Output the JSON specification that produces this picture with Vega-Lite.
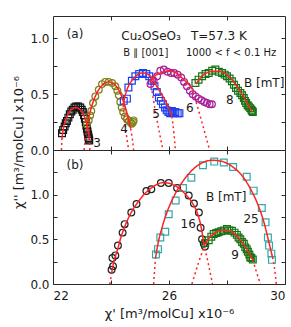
{
"$schema":"https://vega.github.io/schema/vega-lite/v6.json",
"padding":{"left":12,"top":15,"right":8,"bottom":4},
"spacing":0,
"bounds":"flush",
"config":{
 "view":{"stroke":null},
 "font":"DejaVu Sans",
 "axis":{"grid":false,"domainColor":"#2a2a2a","domainWidth":1,"tickColor":"#2a2a2a","tickWidth":1,"tickSize":-4,"labelFont":"DejaVu Sans","labelFontSize":12,"labelColor":"#1a1a1a","titleFont":"DejaVu Sans","titleFontSize":13,"titleFontWeight":"normal","titleColor":"#1a1a1a","labelPadding":8}
},
"datasets":{
"ptsA":[
{"B":"3","x":22.31,"y":0.15},{"B":"3","x":22.35,"y":0.18},{"B":"3","x":22.40,"y":0.21},{"B":"3","x":22.44,"y":0.24},{"B":"3","x":22.48,"y":0.26},{"B":"3","x":22.53,"y":0.29},{"B":"3","x":22.58,"y":0.32},{"B":"3","x":22.63,"y":0.345},{"B":"3","x":22.68,"y":0.36},{"B":"3","x":22.74,"y":0.38},{"B":"3","x":22.80,"y":0.39},{"B":"3","x":22.87,"y":0.39},{"B":"3","x":22.94,"y":0.38},{"B":"3","x":22.99,"y":0.36},{"B":"3","x":23.03,"y":0.34},{"B":"3","x":23.07,"y":0.31},{"B":"3","x":23.10,"y":0.28},{"B":"3","x":23.13,"y":0.25},{"B":"3","x":23.15,"y":0.22},{"B":"3","x":23.17,"y":0.19},{"B":"3","x":23.19,"y":0.165},{"B":"3","x":23.21,"y":0.14},{"B":"3","x":23.22,"y":0.12},{"B":"3","x":23.23,"y":0.105},{"B":"3","x":23.24,"y":0.095},{"B":"3","x":23.25,"y":0.085},
{"B":"4","x":23.17,"y":0.23},{"B":"4","x":23.23,"y":0.265},{"B":"4","x":23.28,"y":0.31},{"B":"4","x":23.32,"y":0.35},{"B":"4","x":23.38,"y":0.42},{"B":"4","x":23.46,"y":0.48},{"B":"4","x":23.58,"y":0.54},{"B":"4","x":23.69,"y":0.59},{"B":"4","x":23.80,"y":0.61},{"B":"4","x":23.92,"y":0.61},{"B":"4","x":24.04,"y":0.60},{"B":"4","x":24.15,"y":0.57},{"B":"4","x":24.22,"y":0.53},{"B":"4","x":24.27,"y":0.49},{"B":"4","x":24.32,"y":0.43},{"B":"4","x":24.37,"y":0.38},{"B":"4","x":24.42,"y":0.34},{"B":"4","x":24.48,"y":0.30},{"B":"4","x":24.55,"y":0.275},{"B":"4","x":24.62,"y":0.26},{"B":"4","x":24.68,"y":0.245},{"B":"4","x":24.72,"y":0.235},{"B":"4","x":24.76,"y":0.25},{"B":"4","x":24.78,"y":0.265},
{"B":"5","x":24.44,"y":0.44},{"B":"5","x":24.55,"y":0.46},{"B":"5","x":24.60,"y":0.56},{"B":"5","x":24.72,"y":0.62},{"B":"5","x":24.84,"y":0.66},{"B":"5","x":24.97,"y":0.68},{"B":"5","x":25.10,"y":0.69},{"B":"5","x":25.22,"y":0.68},{"B":"5","x":25.32,"y":0.66},{"B":"5","x":25.41,"y":0.62},{"B":"5","x":25.50,"y":0.57},{"B":"5","x":25.58,"y":0.52},{"B":"5","x":25.65,"y":0.47},{"B":"5","x":25.72,"y":0.44},{"B":"5","x":25.79,"y":0.41},{"B":"5","x":25.86,"y":0.38},{"B":"5","x":25.92,"y":0.355},{"B":"5","x":25.98,"y":0.34},{"B":"5","x":26.04,"y":0.33},{"B":"5","x":26.10,"y":0.35},{"B":"5","x":26.16,"y":0.33},{"B":"5","x":26.22,"y":0.34},{"B":"5","x":26.30,"y":0.33},{"B":"5","x":26.36,"y":0.33},
{"B":"6","x":25.36,"y":0.59},{"B":"6","x":25.47,"y":0.62},{"B":"6","x":25.59,"y":0.66},{"B":"6","x":25.70,"y":0.71},{"B":"6","x":25.82,"y":0.72},{"B":"6","x":25.95,"y":0.70},{"B":"6","x":26.07,"y":0.69},{"B":"6","x":26.18,"y":0.69},{"B":"6","x":26.30,"y":0.675},{"B":"6","x":26.42,"y":0.65},{"B":"6","x":26.52,"y":0.61},{"B":"6","x":26.62,"y":0.57},{"B":"6","x":26.72,"y":0.53},{"B":"6","x":26.82,"y":0.50},{"B":"6","x":26.92,"y":0.48},{"B":"6","x":27.02,"y":0.46},{"B":"6","x":27.12,"y":0.445},{"B":"6","x":27.22,"y":0.43},{"B":"6","x":27.31,"y":0.42},{"B":"6","x":27.40,"y":0.41},{"B":"6","x":27.48,"y":0.41},
{"B":"8","x":26.91,"y":0.60},{"B":"8","x":27.02,"y":0.63},{"B":"8","x":27.14,"y":0.66},{"B":"8","x":27.26,"y":0.68},{"B":"8","x":27.37,"y":0.69},{"B":"8","x":27.49,"y":0.71},{"B":"8","x":27.60,"y":0.72},{"B":"8","x":27.72,"y":0.70},{"B":"8","x":27.83,"y":0.69},{"B":"8","x":27.92,"y":0.675},{"B":"8","x":28.00,"y":0.66},{"B":"8","x":28.09,"y":0.64},{"B":"8","x":28.17,"y":0.615},{"B":"8","x":28.24,"y":0.585},{"B":"8","x":28.31,"y":0.555},{"B":"8","x":28.38,"y":0.53},{"B":"8","x":28.46,"y":0.51},{"B":"8","x":28.52,"y":0.49},{"B":"8","x":28.58,"y":0.465},{"B":"8","x":28.62,"y":0.44},{"B":"8","x":28.66,"y":0.42},{"B":"8","x":28.71,"y":0.40},{"B":"8","x":28.75,"y":0.39},{"B":"8","x":28.80,"y":0.375},{"B":"8","x":28.84,"y":0.36},{"B":"8","x":28.87,"y":0.35},{"B":"8","x":28.89,"y":0.34}
],
"fitA":[
{"id":"3a","kind":"ext","x":22.29,"y":0},{"id":"3a","kind":"ext","x":22.31,"y":0.107},
{"id":"3","kind":"fit","x":22.31,"y":0.107},{"id":"3","kind":"fit","x":22.34,"y":0.167},{"id":"3","kind":"fit","x":22.38,"y":0.22},{"id":"3","kind":"fit","x":22.45,"y":0.281},{"id":"3","kind":"fit","x":22.53,"y":0.327},{"id":"3","kind":"fit","x":22.63,"y":0.362},{"id":"3","kind":"fit","x":22.78,"y":0.38},{"id":"3","kind":"fit","x":22.93,"y":0.362},{"id":"3","kind":"fit","x":23.03,"y":0.327},{"id":"3","kind":"fit","x":23.11,"y":0.281},{"id":"3","kind":"fit","x":23.18,"y":0.22},{"id":"3","kind":"fit","x":23.22,"y":0.167},{"id":"3","kind":"fit","x":23.25,"y":0.107},
{"id":"3b","kind":"ext","x":23.25,"y":0.107},{"id":"3b","kind":"ext","x":23.27,"y":0},
{"id":"4a","kind":"ext","x":23.07,"y":0},{"id":"4a","kind":"ext","x":23.11,"y":0.09},{"id":"4a","kind":"ext","x":23.15,"y":0.172},
{"id":"4","kind":"fit","x":23.15,"y":0.172},{"id":"4","kind":"fit","x":23.25,"y":0.3075},{"id":"4","kind":"fit","x":23.40,"y":0.442},{"id":"4","kind":"fit","x":23.55,"y":0.5286},{"id":"4","kind":"fit","x":23.70,"y":0.5816},{"id":"4","kind":"fit","x":23.925,"y":0.61},{"id":"4","kind":"fit","x":24.15,"y":0.58},{"id":"4","kind":"fit","x":24.30,"y":0.52},{"id":"4","kind":"fit","x":24.45,"y":0.42},{"id":"4","kind":"fit","x":24.58,"y":0.30},{"id":"4","kind":"fit","x":24.68,"y":0.19},
{"id":"4b","kind":"ext","x":24.68,"y":0.19},{"id":"4b","kind":"ext","x":24.74,"y":0.09},{"id":"4b","kind":"ext","x":24.78,"y":0},
{"id":"5a","kind":"ext","x":24.42,"y":0.40},{"id":"5a","kind":"ext","x":24.50,"y":0.20},{"id":"5a","kind":"ext","x":24.61,"y":0},
{"id":"5","kind":"fit","x":24.42,"y":0.40},{"id":"5","kind":"fit","x":24.48,"y":0.48},{"id":"5","kind":"fit","x":24.55,"y":0.54},{"id":"5","kind":"fit","x":24.66,"y":0.60},{"id":"5","kind":"fit","x":24.78,"y":0.64},{"id":"5","kind":"fit","x":24.92,"y":0.675},{"id":"5","kind":"fit","x":25.10,"y":0.69},{"id":"5","kind":"fit","x":25.25,"y":0.68},{"id":"5","kind":"fit","x":25.41,"y":0.646},{"id":"5","kind":"fit","x":25.61,"y":0.556},{"id":"5","kind":"fit","x":25.82,"y":0.467},{"id":"5","kind":"fit","x":25.99,"y":0.378},{"id":"5","kind":"fit","x":26.10,"y":0.30},
{"id":"5b","kind":"ext","x":26.10,"y":0.30},{"id":"5b","kind":"ext","x":26.17,"y":0.15},{"id":"5b","kind":"ext","x":26.22,"y":0},
{"id":"6a","kind":"ext","x":25.36,"y":0.616},{"id":"6a","kind":"ext","x":25.55,"y":0.32},{"id":"6a","kind":"ext","x":25.79,"y":0},
{"id":"6","kind":"fit","x":25.36,"y":0.616},{"id":"6","kind":"fit","x":25.50,"y":0.66},{"id":"6","kind":"fit","x":25.70,"y":0.69},{"id":"6","kind":"fit","x":25.90,"y":0.705},{"id":"6","kind":"fit","x":26.05,"y":0.705},{"id":"6","kind":"fit","x":26.25,"y":0.69},{"id":"6","kind":"fit","x":26.51,"y":0.63},{"id":"6","kind":"fit","x":26.65,"y":0.595},{"id":"6","kind":"fit","x":26.79,"y":0.556},
{"id":"6b","kind":"ext","x":26.79,"y":0.556},{"id":"6b","kind":"ext","x":27.10,"y":0.28},{"id":"6b","kind":"ext","x":27.40,"y":0},
{"id":"8","kind":"fit","x":26.93,"y":0.59},{"id":"8","kind":"fit","x":27.10,"y":0.65},{"id":"8","kind":"fit","x":27.30,"y":0.69},{"id":"8","kind":"fit","x":27.50,"y":0.705},{"id":"8","kind":"fit","x":27.71,"y":0.705},{"id":"8","kind":"fit","x":27.90,"y":0.69},{"id":"8","kind":"fit","x":28.10,"y":0.65},{"id":"8","kind":"fit","x":28.30,"y":0.585},{"id":"8","kind":"fit","x":28.52,"y":0.50},{"id":"8","kind":"fit","x":28.70,"y":0.42},{"id":"8","kind":"fit","x":28.87,"y":0.34}
],
"txtA":[
{"t":"(a)","x":22.76,"y":1.04},{"t":"Cu₂OSeO₃","x":25.38,"y":1.02},{"t":"T=57.3 K","x":27.72,"y":1.02},{"t":"B [mT]","x":29.28,"y":0.60},
{"t":"3","x":23.52,"y":0.065},{"t":"4","x":24.45,"y":0.19},{"t":"5","x":25.55,"y":0.32},{"t":"6","x":26.72,"y":0.375},{"t":"8","x":28.10,"y":0.45}
],
"smallA":[
{"t":"B ∥ [001]","x":25.2,"y":0.87},{"t":"1000 < f < 0.1 Hz","x":28.14,"y":0.87}
],
"ptsB":[
{"B":"16","x":24.02,"y":0.16},{"B":"16","x":24.07,"y":0.20},{"B":"16","x":24.05,"y":0.29},{"B":"16","x":24.15,"y":0.32},{"B":"16","x":24.24,"y":0.43},{"B":"16","x":24.40,"y":0.575},{"B":"16","x":24.47,"y":0.67},{"B":"16","x":24.70,"y":0.80},{"B":"16","x":24.88,"y":0.895},{"B":"16","x":25.22,"y":1.04},{"B":"16","x":25.39,"y":1.06},{"B":"16","x":25.72,"y":1.13},{"B":"16","x":25.99,"y":1.13},{"B":"16","x":26.28,"y":1.075},{"B":"16","x":26.68,"y":0.99},{"B":"16","x":26.86,"y":0.90},{"B":"16","x":27.03,"y":0.80},{"B":"16","x":27.09,"y":0.63},{"B":"16","x":27.14,"y":0.50},{"B":"16","x":27.20,"y":0.45},{"B":"16","x":27.24,"y":0.42},
{"B":"25","x":25.55,"y":0.33},{"B":"25","x":25.62,"y":0.39},{"B":"25","x":25.70,"y":0.52},{"B":"25","x":25.87,"y":0.585},{"B":"25","x":25.99,"y":0.78},{"B":"25","x":26.23,"y":0.935},{"B":"25","x":26.48,"y":1.075},{"B":"25","x":26.77,"y":1.19},{"B":"25","x":27.17,"y":1.33},{"B":"25","x":27.56,"y":1.37},{"B":"25","x":27.89,"y":1.36},{"B":"25","x":28.21,"y":1.31},{"B":"25","x":28.68,"y":1.20},{"B":"25","x":28.92,"y":1.045},{"B":"25","x":29.20,"y":0.85},{"B":"25","x":29.33,"y":0.69},{"B":"25","x":29.41,"y":0.52},{"B":"25","x":29.45,"y":0.43},{"B":"25","x":29.53,"y":0.34},{"B":"25","x":29.55,"y":0.27},
{"B":"9","x":27.25,"y":0.46},{"B":"9","x":27.37,"y":0.49},{"B":"9","x":27.46,"y":0.53},{"B":"9","x":27.54,"y":0.56},{"B":"9","x":27.63,"y":0.57},{"B":"9","x":27.71,"y":0.58},{"B":"9","x":27.80,"y":0.59},{"B":"9","x":27.89,"y":0.60},{"B":"9","x":28.00,"y":0.615},{"B":"9","x":28.08,"y":0.60},{"B":"9","x":28.17,"y":0.595},{"B":"9","x":28.26,"y":0.575},{"B":"9","x":28.34,"y":0.55},{"B":"9","x":28.40,"y":0.52},{"B":"9","x":28.46,"y":0.50},{"B":"9","x":28.52,"y":0.47},{"B":"9","x":28.58,"y":0.45},{"B":"9","x":28.63,"y":0.41},{"B":"9","x":28.68,"y":0.39},{"B":"9","x":28.72,"y":0.36},{"B":"9","x":28.77,"y":0.33},{"B":"9","x":28.80,"y":0.30},{"B":"9","x":28.84,"y":0.29},{"B":"9","x":28.89,"y":0.275}
],
"fitB":[
{"id":"16a","kind":"ext","x":23.96,"y":0},{"id":"16a","kind":"ext","x":24.02,"y":0.12},
{"id":"16","kind":"fit","x":24.02,"y":0.12},{"id":"16","kind":"fit","x":24.10,"y":0.25},{"id":"16","kind":"fit","x":24.21,"y":0.37},{"id":"16","kind":"fit","x":24.38,"y":0.56},{"id":"16","kind":"fit","x":24.61,"y":0.745},{"id":"16","kind":"fit","x":24.96,"y":0.93},{"id":"16","kind":"fit","x":25.41,"y":1.08},{"id":"16","kind":"fit","x":25.81,"y":1.135},{"id":"16","kind":"fit","x":26.21,"y":1.10},{"id":"16","kind":"fit","x":26.55,"y":1.01},{"id":"16","kind":"fit","x":26.80,"y":0.91},{"id":"16","kind":"fit","x":26.97,"y":0.80},{"id":"16","kind":"fit","x":27.10,"y":0.65},{"id":"16","kind":"fit","x":27.20,"y":0.45},
{"id":"16b","kind":"ext","x":27.20,"y":0.45},{"id":"16b","kind":"ext","x":27.36,"y":0.22},{"id":"16b","kind":"ext","x":27.50,"y":0},
{"id":"25a","kind":"ext","x":25.47,"y":0},{"id":"25a","kind":"ext","x":25.53,"y":0.28},
{"id":"25","kind":"fit","x":25.53,"y":0.28},{"id":"25","kind":"fit","x":25.62,"y":0.45},{"id":"25","kind":"fit","x":25.75,"y":0.62},{"id":"25","kind":"fit","x":25.95,"y":0.82},{"id":"25","kind":"fit","x":26.20,"y":1.0},{"id":"25","kind":"fit","x":26.50,"y":1.16},{"id":"25","kind":"fit","x":26.85,"y":1.29},{"id":"25","kind":"fit","x":27.20,"y":1.365},{"id":"25","kind":"fit","x":27.50,"y":1.385},{"id":"25","kind":"fit","x":27.85,"y":1.37},{"id":"25","kind":"fit","x":28.20,"y":1.31},{"id":"25","kind":"fit","x":28.55,"y":1.20},{"id":"25","kind":"fit","x":28.85,"y":1.04},{"id":"25","kind":"fit","x":29.10,"y":0.86},{"id":"25","kind":"fit","x":29.30,"y":0.66},{"id":"25","kind":"fit","x":29.45,"y":0.46},{"id":"25","kind":"fit","x":29.57,"y":0.30},
{"id":"25b","kind":"ext","x":29.57,"y":0.30},{"id":"25b","kind":"ext","x":29.65,"y":0.15},{"id":"25b","kind":"ext","x":29.70,"y":0},
{"id":"9a","kind":"ext","x":26.79,"y":0},{"id":"9a","kind":"ext","x":27.02,"y":0.24},{"id":"9a","kind":"ext","x":27.25,"y":0.45},
{"id":"9","kind":"fit","x":27.25,"y":0.45},{"id":"9","kind":"fit","x":27.40,"y":0.52},{"id":"9","kind":"fit","x":27.60,"y":0.575},{"id":"9","kind":"fit","x":27.80,"y":0.60},{"id":"9","kind":"fit","x":28.00,"y":0.60},{"id":"9","kind":"fit","x":28.20,"y":0.575},{"id":"9","kind":"fit","x":28.40,"y":0.515},{"id":"9","kind":"fit","x":28.60,"y":0.43},{"id":"9","kind":"fit","x":28.75,"y":0.35},{"id":"9","kind":"fit","x":28.89,"y":0.27},
{"id":"9b","kind":"ext","x":28.89,"y":0.27},{"id":"9b","kind":"ext","x":29.02,"y":0.13},{"id":"9b","kind":"ext","x":29.15,"y":0}
],
"txtB":[
{"t":"(b)","x":22.76,"y":1.33},{"t":"B [mT]","x":27.97,"y":0.97},{"t":"16","x":26.66,"y":0.67},{"t":"25","x":28.83,"y":0.73},{"t":"9","x":28.28,"y":0.33}
]
},
"vconcat":[
{
 "width":232,"height":134,
 "resolve":{"axis":{"x":"independent","y":"independent"}},
 "layer":[
  {"data":{"name":"ptsA"},
   "mark":{"type":"point","filled":false,"strokeWidth":1.2,"size":46,"opacity":1},
   "encoding":{
    "x":{"field":"x","type":"quantitative","scale":{"domain":[22,30],"nice":false,"zero":false},"axis":{"orient":"bottom","values":[22,24,26,28,30],"labels":false,"title":null}},
    "y":{"field":"y","type":"quantitative","scale":{"domain":[0,1.2],"nice":false},"axis":{"orient":"left","values":[0,0.25,0.5,0.75,1.0],"labelExpr":"datum.value % 0.5 == 0 ? format(datum.value,'.1f') : ''","title":"χ'' [m³/molCu] x10⁻⁶","titleY":126,"titlePadding":4}},
    "color":{"field":"B","type":"nominal","scale":{"domain":["3","4","5","6","8","16","25","9"],"range":["#151515","#7f7f1c","#1f3ff0","#a8209c","#157515","#222222","#33a8a8","#157515"]},"legend":null},
    "shape":{"field":"B","type":"nominal","scale":{"domain":["3","4","5","6","8","16","25","9"],"range":["square","circle","square","circle","square","circle","square","square"]},"legend":null}
   }},
  {"data":{"name":"fitA"},
   "mark":{"type":"line","color":"#ff2222","strokeWidth":1.5,"interpolate":"monotone"},
   "encoding":{
    "x":{"field":"x","type":"quantitative","scale":{"domain":[22,30],"nice":false,"zero":false},"axis":{"orient":"top","values":[24,26,28],"labels":false,"title":null,"domain":true}},
    "y":{"field":"y","type":"quantitative","scale":{"domain":[0,1.2],"nice":false},"axis":{"orient":"right","values":[0,0.25,0.5,0.75,1.0],"labels":false,"title":null}},
    "detail":{"field":"id"},
    "strokeDash":{"field":"kind","type":"nominal","scale":{"domain":["fit","ext"],"range":[[1,0],[2,3]]},"legend":null}
   }},
  {"data":{"name":"txtA"},
   "mark":{"type":"text","fontSize":12,"color":"#1a1a1a","align":"center","baseline":"middle"},
   "encoding":{
    "x":{"field":"x","type":"quantitative","scale":{"domain":[22,30],"nice":false,"zero":false},"axis":null},
    "y":{"field":"y","type":"quantitative","scale":{"domain":[0,1.2],"nice":false},"axis":null},
    "text":{"field":"t"}
   }},
  {"data":{"name":"smallA"},
   "mark":{"type":"text","fontSize":10,"color":"#1a1a1a","align":"center","baseline":"middle"},
   "encoding":{
    "x":{"field":"x","type":"quantitative","scale":{"domain":[22,30],"nice":false,"zero":false},"axis":null},
    "y":{"field":"y","type":"quantitative","scale":{"domain":[0,1.2],"nice":false},"axis":null},
    "text":{"field":"t"}
   }}
 ]
},
{
 "width":232,"height":134,
 "resolve":{"axis":{"x":"independent","y":"independent"}},
 "layer":[
  {"data":{"name":"ptsB"},
   "mark":{"type":"point","filled":false,"strokeWidth":1.2,"size":46,"opacity":1},
   "encoding":{
    "x":{"field":"x","type":"quantitative","scale":{"domain":[22,30],"nice":false,"zero":false},"axis":{"orient":"bottom","values":[22,24,26,28,30],"labelExpr":"datum.value % 4 == 2 ? datum.label : ''","labelPadding":10,"title":"χ' [m³/molCu] x10⁻⁶","titlePadding":6}},
    "y":{"field":"y","type":"quantitative","scale":{"domain":[0,1.5],"nice":false},"axis":{"orient":"left","values":[0,0.25,0.5,0.75,1.0,1.25],"labelExpr":"datum.value % 0.5 == 0 ? format(datum.value,'.1f') : ''","title":null}},
    "color":{"field":"B","type":"nominal","scale":{"domain":["3","4","5","6","8","16","25","9"],"range":["#151515","#7f7f1c","#1f3ff0","#a8209c","#157515","#222222","#33a8a8","#157515"]},"legend":null},
    "shape":{"field":"B","type":"nominal","scale":{"domain":["3","4","5","6","8","16","25","9"],"range":["square","circle","square","circle","square","circle","square","square"]},"legend":null}
   }},
  {"data":{"name":"fitB"},
   "mark":{"type":"line","color":"#ff2222","strokeWidth":1.5,"interpolate":"monotone"},
   "encoding":{
    "x":{"field":"x","type":"quantitative","scale":{"domain":[22,30],"nice":false,"zero":false},"axis":{"orient":"top","values":[24,26,28],"labels":false,"title":null}},
    "y":{"field":"y","type":"quantitative","scale":{"domain":[0,1.5],"nice":false},"axis":{"orient":"right","values":[0,0.25,0.5,0.75,1.0,1.25],"labels":false,"title":null}},
    "detail":{"field":"id"},
    "strokeDash":{"field":"kind","type":"nominal","scale":{"domain":["fit","ext"],"range":[[1,0],[2,3]]},"legend":null}
   }},
  {"data":{"name":"txtB"},
   "mark":{"type":"text","fontSize":12,"color":"#1a1a1a","align":"center","baseline":"middle"},
   "encoding":{
    "x":{"field":"x","type":"quantitative","scale":{"domain":[22,30],"nice":false,"zero":false},"axis":null},
    "y":{"field":"y","type":"quantitative","scale":{"domain":[0,1.5],"nice":false},"axis":null},
    "text":{"field":"t"}
   }}
 ]
}
]
}
